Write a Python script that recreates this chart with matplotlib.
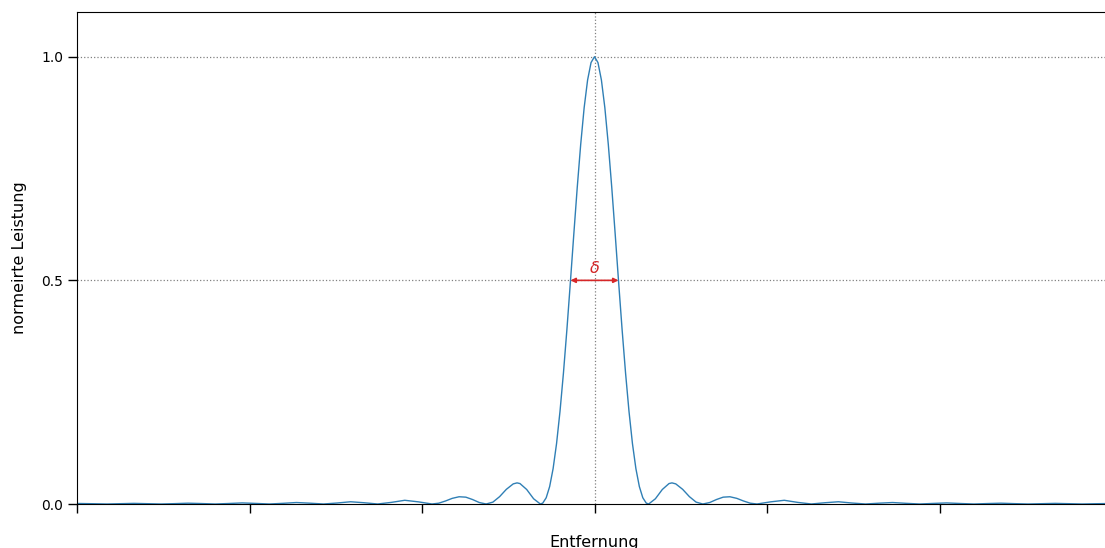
import numpy as np
import matplotlib
matplotlib.use("Agg")
import matplotlib.pyplot as plt

# distance from the centre (right half, curve is symmetric) and normalised power
offset = [0.00, 0.02, 0.04, 0.06, 0.08, 0.10, 0.12, 0.14, 0.16, 0.18, 0.20,
          0.22, 0.24, 0.26, 0.28, 0.30, 0.314,
          0.353, 0.393, 0.432, 0.449, 0.471, 0.511, 0.550, 0.589, 0.628,
          0.668, 0.707, 0.746, 0.785, 0.825, 0.864, 0.903, 0.942,
          1.021, 1.100, 1.178, 1.257,
          1.335, 1.414, 1.492, 1.571,
          1.649, 1.728, 1.806, 1.885,
          1.964, 2.042, 2.121, 2.199,
          2.278, 2.356, 2.435, 2.513,
          2.592, 2.670, 2.749, 2.827,
          2.906, 2.985, 3.000]
power = [1.000, 0.987, 0.948, 0.886, 0.804, 0.708, 0.603, 0.495, 0.390, 0.293, 0.207,
         0.135, 0.079, 0.039, 0.014, 0.002, 0.000,
         0.0117, 0.0324, 0.0457, 0.0472, 0.0450, 0.0328, 0.0165, 0.0042, 0.000,
         0.0033, 0.0100, 0.0153, 0.0162, 0.0126, 0.0067, 0.0018, 0.000,
         0.0048, 0.0083, 0.0036, 0.000,
         0.0028, 0.0050, 0.0022, 0.000,
         0.0018, 0.0033, 0.0015, 0.000,
         0.0013, 0.0024, 0.0011, 0.000,
         0.0010, 0.0018, 0.0008, 0.000,
         0.0007, 0.0014, 0.0007, 0.000,
         0.0006, 0.0011, 0.0011]
centre = 3.0
half_width = 0.139   # where the main lobe crosses 0.5
y_ticks = [0.0, 0.5, 1.0]

off = np.array(offset)
pw = np.array(power)
x = np.concatenate([centre - off[::-1], centre + off[1:]])
y = np.concatenate([pw[::-1], pw[1:]])

fig = plt.figure(figsize=(11.05, 5.48), dpi=100)
ax = fig.add_axes([77 / 1105, 44 / 548, 1035 / 1105, 492 / 548])

# dotted reference lines
for yv in [0.5, 1.0]:
    ax.axhline(yv, color='gray', linestyle=':', linewidth=0.9, zorder=1)
ax.axvline(centre, color='gray', linestyle=':', linewidth=0.9, zorder=1)

ax.plot(x, y, color='#2f7fb5', linewidth=1.0, zorder=2)

# width of the main lobe at half power
ax.annotate('', xy=(centre - half_width, 0.5), xytext=(centre + half_width, 0.5),
            arrowprops=dict(arrowstyle='<|-|>', color='#d62728', lw=1.2,
                            mutation_scale=7, shrinkA=0, shrinkB=0), zorder=3)
ax.text(centre, 0.510, r'$\delta$', color='#d62728', ha='center', va='bottom', fontsize=11.5)

ax.set_xlim(0, 6)
ax.set_ylim(0, 1.1)
ax.set_xticks([0, 1, 2, 3, 4, 5])
ax.set_xticklabels([])
ax.set_yticks(y_ticks)
ax.set_yticklabels(['0.0', '0.5', '1.0'])
ax.tick_params(axis='both', length=6.5, width=1, labelsize=10)
ax.spines['right'].set_visible(False)

ax.set_xlabel('Entfernung', fontsize=11.5, labelpad=12)
ax.set_ylabel('normeirte Leistung', fontsize=11.5, labelpad=10)

fig.savefig('out.png', dpi=100)
